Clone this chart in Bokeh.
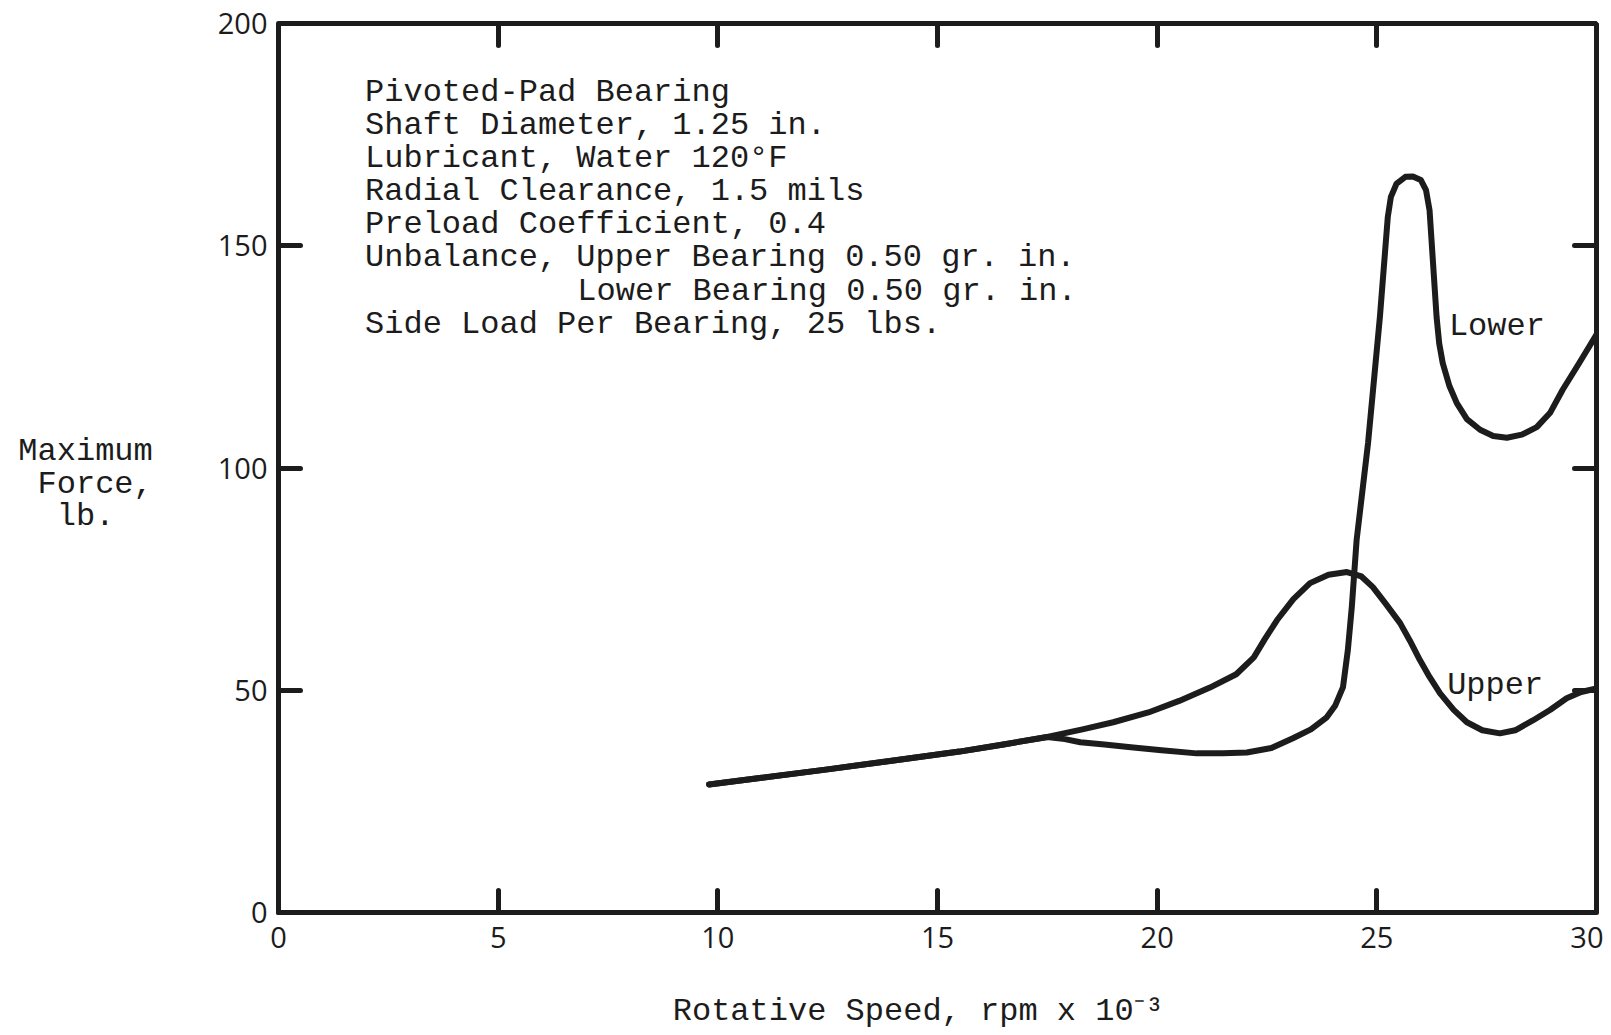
from bokeh.plotting import figure
from bokeh.models import Range1d, FixedTicker, LinearAxis, ColumnDataSource
from bokeh.core.properties import value
from bokeh.embed import file_html
from bokeh.resources import INLINE

# ---- data ----
upper_speed = [9.8, 11.0, 12.5, 14.0, 15.5, 16.5, 17.5, 18.3, 19.0, 19.8, 20.5, 21.2, 21.8,
               22.2, 22.45, 22.73, 23.1, 23.48, 23.9, 24.32, 24.65, 24.91, 25.2, 25.53, 25.75,
               25.98, 26.2, 26.44, 26.75, 27.05, 27.4, 27.8, 28.15, 28.55, 28.95, 29.32, 29.65, 30.0]
upper_force = [28.8, 30.3, 32.2, 34.2, 36.2, 37.8, 39.5, 41.2, 42.8, 45.0, 47.6, 50.6, 53.6,
               57.4, 61.5, 65.8, 70.5, 74.1, 76.0, 76.6, 75.6, 73.2, 69.5, 65.1, 61.2,
               56.8, 53.0, 49.3, 45.6, 42.8, 41.0, 40.3, 41.0, 43.2, 45.6, 48.2, 49.6, 50.4]

lower_speed = [9.8, 11.0, 12.5, 14.0, 15.5, 16.5, 17.5, 17.9, 18.25, 18.8, 19.4, 20.1, 20.9,
               21.5, 22.04, 22.6, 23.09, 23.5, 23.86, 24.05, 24.23, 24.34, 24.43, 24.54, 24.8,
               25.07, 25.25, 25.32, 25.45, 25.65, 25.82, 26.0, 26.12, 26.2, 26.24, 26.3, 26.36,
               26.42, 26.5, 26.65, 26.82, 27.05, 27.35, 27.65, 27.96, 28.3, 28.64, 28.95, 29.23,
               29.6, 30.0]
lower_force = [28.8, 30.3, 32.2, 34.2, 36.2, 37.8, 39.5, 39.0, 38.3, 37.8, 37.2, 36.5, 35.8,
               35.8, 36.0, 37.0, 39.2, 41.2, 43.9, 46.5, 50.7, 59.0, 68.7, 83.8, 105.6,
               134.0, 156.5, 161.0, 164.0, 165.5, 165.6, 164.8, 162.5, 158.0, 152.0, 143.0, 134.0,
               128.0, 123.6, 118.5, 114.6, 111.0, 108.6, 107.2, 106.8, 107.5, 109.2, 112.5, 117.6,
               123.5, 130.0]

x_ticks = [0, 5, 10, 15, 20, 25, 30]
y_ticks = [0, 50, 100, 150, 200]
x_inner_ticks = [5, 10, 15, 20, 25]
y_inner_ticks = [50, 100, 150]

notes = [
    "Pivoted-Pad Bearing",
    "Shaft Diameter, 1.25 in.",
    "Lubricant, Water 120\u00b0F",
    "Radial Clearance, 1.5 mils",
    "Preload Coefficient, 0.4",
    "Unbalance, Upper Bearing 0.50 gr. in.",
    "Lower Bearing 0.50 gr. in.",
    "Side Load Per Bearing, 25 lbs.",
]
notes_indent_chars = [0, 0, 0, 0, 0, 0, 11, 0]

NB = "\u00a0"
y_title = NB + "\nMaximum\nForce,\nlb." + NB + NB
x_title = "Rotative Speed, rpm x 10\u207b\u00b3" + NB + NB

# ---- figure ----
MONO = "Liberation Mono"
INK = "#1c1c1c"

p = figure(width=1603, height=1033, output_backend="svg", toolbar_location=None,
           x_range=Range1d(0, 30), y_range=Range1d(0, 200),
           min_border_left=278, min_border_right=7, min_border_top=23, min_border_bottom=121,
           x_axis_location="below", y_axis_location="left")
p.background_fill_color = "white"
p.border_fill_color = "white"
p.grid.visible = False
p.outline_line_color = INK
p.outline_line_width = 5
p.outline_line_alpha = 1.0

def style_axis(ax, ticks, show_labels):
    ax.ticker = FixedTicker(ticks=ticks)
    ax.axis_line_color = None
    ax.major_tick_in = 22
    ax.major_tick_out = 0
    ax.major_tick_line_width = 5
    ax.major_tick_line_color = INK
    ax.major_tick_line_cap = "round"
    ax.minor_tick_line_color = None
    if show_labels:
        ax.major_label_text_font = "Open Sans"
        ax.major_label_text_font_size = "29px"
        ax.major_label_text_color = INK
    else:
        ax.major_label_text_font_size = "0px"
        ax.major_label_standoff = 0
        ax.major_label_text_alpha = 0

xa = p.xaxis[0]
style_axis(xa, x_ticks, True)
xa.major_label_standoff = 14
xa.axis_label = x_title
xa.axis_label_text_font = MONO
xa.axis_label_text_font_size = "32px"
xa.axis_label_text_font_style = "normal"
xa.axis_label_text_color = INK
xa.axis_label_standoff = 42

ya = p.yaxis[0]
style_axis(ya, y_ticks, True)
ya.major_label_standoff = 11
ya.axis_label = y_title
ya.axis_label_orientation = "horizontal"
ya.axis_label_text_font = MONO
ya.axis_label_text_font_size = "32px"
ya.axis_label_text_font_style = "normal"
ya.axis_label_text_color = INK
ya.axis_label_text_line_height = 0.88
ya.axis_label_standoff = 62

top_ax = LinearAxis()
style_axis(top_ax, x_inner_ticks, False)
p.add_layout(top_ax, "above")
right_ax = LinearAxis()
style_axis(right_ax, y_inner_ticks, False)
p.add_layout(right_ax, "right")

# ---- curves ----
p.line(upper_speed, upper_force, line_width=6, line_color=INK, line_join="round", line_cap="round")
p.line(lower_speed, lower_force, line_width=6, line_color=INK, line_join="round", line_cap="round")

# ---- curve labels ----
curve_labels = ColumnDataSource(dict(x=[26.64, 26.6], y=[131.8, 51.1], t=["Lower", "Upper"]))
p.text(x="x", y="y", text="t", source=curve_labels, text_font=value(MONO),
       text_font_size=value("32px"), text_color=INK, text_align="left", text_baseline="middle")

# ---- notes block ----
char_w = 19.3 / 43.93      # one typewriter character in data units
note_x0 = 1.97
note_y0 = 184.4
note_step = 7.43
notes_src = ColumnDataSource(dict(
    x=[note_x0 + n * char_w for n in notes_indent_chars],
    y=[note_y0 - i * note_step for i in range(len(notes))],
    t=notes))
p.text(x="x", y="y", text="t", source=notes_src, text_font=value(MONO),
       text_font_size=value("32px"), text_color=INK, text_align="left", text_baseline="middle")

open("out.html", "w").write(file_html(p, INLINE))
